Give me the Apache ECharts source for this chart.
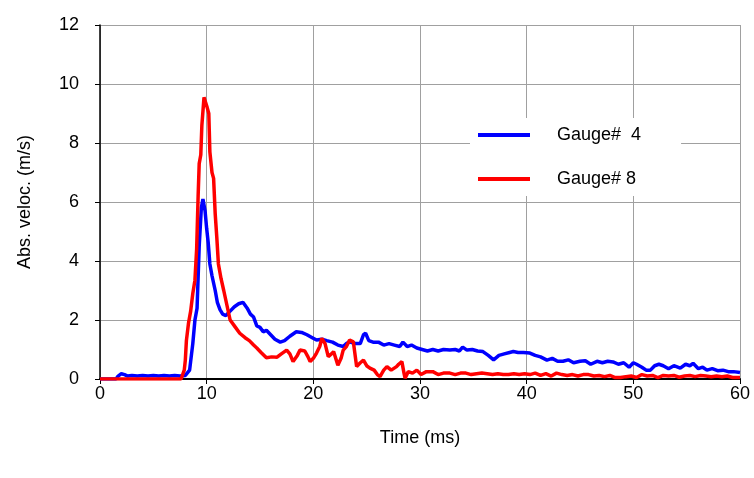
<!DOCTYPE html>
<html>
<head>
<meta charset="utf-8">
<script src="https://cdn.jsdelivr.net/npm/echarts@6/dist/echarts.min.js"></script>
<style>html,body{margin:0;padding:0;background:#fff}#c{width:754px;height:478px}</style>
</head>
<body>
<div id="c"></div>
<script>
var xTicks = [0, 10, 20, 30, 40, 50, 60];
var yTicks = [0, 2, 4, 6, 8, 10, 12];
var seriesNames = ['Gauge#  4', 'Gauge# 8'];

var gauge4Time = [0,1.5,1.7,2.0,2.3,2.6,3.0,3.5,4,4.5,5,5.5,6,6.5,7,7.5,8,8.4,8.7,8.9,9.1,9.3,9.5,9.65,9.85,10.0,10.15,10.3,10.5,10.8,11.0,11.25,11.5,11.8,12.2,12.6,13.0,13.4,13.8,14.1,14.4,14.7,15.0,15.3,15.6,16.0,16.4,16.9,17.3,17.8,18.4,18.9,19.4,19.9,20.3,20.8,21.25,21.8,22.3,22.8,23.1,23.4,23.9,24.4,24.7,24.9,25.2,25.6,26.1,26.6,27.1,27.6,28.1,28.4,28.8,29.2,29.7,30.2,30.7,31.2,31.7,32.2,32.8,33.3,33.7,34.0,34.4,34.9,35.4,35.9,36.4,36.9,37.4,37.9,38.4,38.75,39.2,39.7,40.3,40.8,41.3,41.9,42.4,42.9,43.4,43.9,44.4,45,45.5,46,46.6,47.1,47.6,48.1,48.6,49.1,49.6,50.0,50.3,50.8,51.2,51.6,52.0,52.4,52.8,53.3,53.8,54.4,54.9,55.3,55.6,56.1,56.5,56.9,57.4,57.9,58.4,58.9,59.4,60];
var gauge4Vel = [0,0,0.1,0.18,0.15,0.1,0.12,0.1,0.12,0.1,0.12,0.1,0.12,0.1,0.12,0.1,0.12,0.3,1.2,2.0,2.4,4.5,5.8,6.1,5.7,5.1,4.6,3.9,3.5,3.0,2.6,2.35,2.2,2.15,2.3,2.45,2.55,2.6,2.4,2.2,2.1,1.8,1.75,1.6,1.65,1.5,1.35,1.25,1.3,1.45,1.6,1.58,1.5,1.4,1.32,1.35,1.3,1.25,1.15,1.1,1.2,1.26,1.2,1.2,1.5,1.55,1.3,1.25,1.25,1.15,1.2,1.15,1.1,1.25,1.1,1.15,1.05,1.0,0.95,1.0,0.95,1.0,0.98,1.0,0.95,1.08,0.98,1.0,0.95,0.93,0.8,0.65,0.8,0.85,0.9,0.93,0.9,0.9,0.88,0.8,0.75,0.64,0.7,0.6,0.6,0.65,0.55,0.6,0.62,0.5,0.6,0.55,0.6,0.58,0.5,0.55,0.4,0.55,0.5,0.4,0.3,0.3,0.45,0.5,0.45,0.35,0.45,0.37,0.5,0.45,0.53,0.35,0.4,0.3,0.35,0.28,0.3,0.25,0.25,0.22];

var gauge8Time = [0,7.6,7.9,8.0,8.1,8.3,8.5,8.7,8.9,9.06,9.2,9.3,9.45,9.55,9.75,9.9,10.05,10.2,10.3,10.5,10.65,10.8,10.95,11.1,11.35,11.6,11.9,12.2,12.6,13.1,13.6,14.0,14.4,14.7,15.1,15.6,16.1,16.6,17.0,17.5,17.8,18.1,18.5,18.75,19.2,19.5,19.7,20.0,20.3,20.6,20.8,21.1,21.4,21.7,21.9,22.3,22.6,22.8,23.1,23.4,23.75,24.06,24.4,24.7,25.0,25.3,25.7,26.0,26.25,26.6,26.9,27.3,27.8,28.0,28.3,28.5,28.6,28.9,29.3,29.7,30.1,30.6,31.2,31.7,32.2,32.8,33.3,33.8,34.3,34.8,35.3,35.8,36.3,36.8,37.3,37.8,38.3,38.8,39.3,39.8,40.3,40.8,41.3,41.8,42.3,42.8,43.3,43.8,44.3,44.8,45.3,45.8,46.3,46.8,47.3,47.8,48.3,48.8,49.3,49.8,50.3,50.8,51.3,51.8,52.3,52.8,53.3,53.8,54.3,54.8,55.3,55.8,56.3,56.8,57.3,57.8,58.3,58.8,59.3,60];
var gauge8Vel = [0,0,0.3,0.64,1.3,1.9,2.3,2.9,3.35,4.4,6.2,7.3,7.6,8.6,9.55,9.55,9.2,9.0,7.7,7.0,6.8,5.6,4.8,3.9,3.4,3.0,2.5,2.0,1.8,1.55,1.4,1.3,1.15,1.05,0.9,0.72,0.75,0.74,0.85,0.98,0.85,0.59,0.8,0.98,0.95,0.75,0.59,0.7,0.88,1.1,1.38,1.2,0.76,0.85,0.93,0.47,0.7,0.98,1.1,1.32,1.26,0.42,0.55,0.64,0.45,0.37,0.3,0.15,0.08,0.3,0.42,0.3,0.42,0.5,0.59,0.2,0.03,0.25,0.2,0.3,0.15,0.25,0.25,0.15,0.2,0.2,0.15,0.2,0.2,0.15,0.18,0.2,0.18,0.15,0.18,0.15,0.15,0.18,0.15,0.18,0.15,0.2,0.12,0.18,0.1,0.2,0.15,0.12,0.15,0.1,0.15,0.15,0.1,0.12,0.08,0.12,0.05,0.05,0.08,0.1,0.05,0.15,0.1,0.12,0.05,0.12,0.1,0.12,0.06,0.1,0.12,0.08,0.12,0.1,0.08,0.1,0.08,0.1,0.05,0.05];

function pairs(t, v) { return t.map(function (x, i) { return [x, v[i]]; }); }

var FONT = 'Liberation Sans, Arial, sans-serif';
var chart = echarts.init(document.getElementById('c'), null, {renderer: 'canvas'});
chart.setOption({
  animation: false,
  backgroundColor: '#fff',
  grid: {left: 100, right: 14, top: 25, bottom: 99, containLabel: false},
  legend: {
    orient: 'vertical',
    left: 470, top: 118,
    icon: 'rect',
    itemWidth: 52, itemHeight: 4, itemGap: 26,
    padding: [8, 40, 8, 8],
    backgroundColor: '#fff',
    textStyle: {fontFamily: FONT, fontSize: 18, color: '#000', padding: [0, 0, 0, 22]},
    data: seriesNames
  },
  xAxis: {
    type: 'value', min: xTicks[0], max: xTicks[xTicks.length - 1], interval: 10,
    name: 'Time (ms)', nameLocation: 'middle', nameGap: 50,
    nameTextStyle: {fontFamily: FONT, fontSize: 18, color: '#000'},
    axisLine: {show: true, onZero: false, lineStyle: {color: '#000', width: 2}},
    axisTick: {show: true, inside: false, length: 5, lineStyle: {color: '#000'}},
    axisLabel: {fontFamily: FONT, fontSize: 18, color: '#000', margin: 6},
    splitLine: {show: true, lineStyle: {color: '#a0a0a0', width: 1}}
  },
  yAxis: {
    type: 'value', min: yTicks[0], max: yTicks[yTicks.length - 1], interval: 2,
    name: 'Abs. veloc. (m/s)', nameLocation: 'middle', nameGap: 66,
    nameTextStyle: {fontFamily: FONT, fontSize: 18, color: '#000'},
    axisLine: {show: true, lineStyle: {color: '#000', width: 1.5}},
    axisTick: {show: true, inside: false, length: 5, lineStyle: {color: '#000'}},
    axisLabel: {fontFamily: FONT, fontSize: 18, color: '#000', margin: 21},
    splitLine: {show: true, lineStyle: {color: '#a0a0a0', width: 1}}
  },
  series: [
    {name: seriesNames[0], type: 'line', data: pairs(gauge4Time, gauge4Vel), symbol: 'none', lineStyle: {color: '#0000ff', width: 3.5}, itemStyle: {color: '#0000ff'}, z: 2},
    {name: seriesNames[1], type: 'line', data: pairs(gauge8Time, gauge8Vel), symbol: 'none', lineStyle: {color: '#ff0000', width: 3.5}, itemStyle: {color: '#ff0000'}, z: 3}
  ]
});
</script>
</body>
</html>
